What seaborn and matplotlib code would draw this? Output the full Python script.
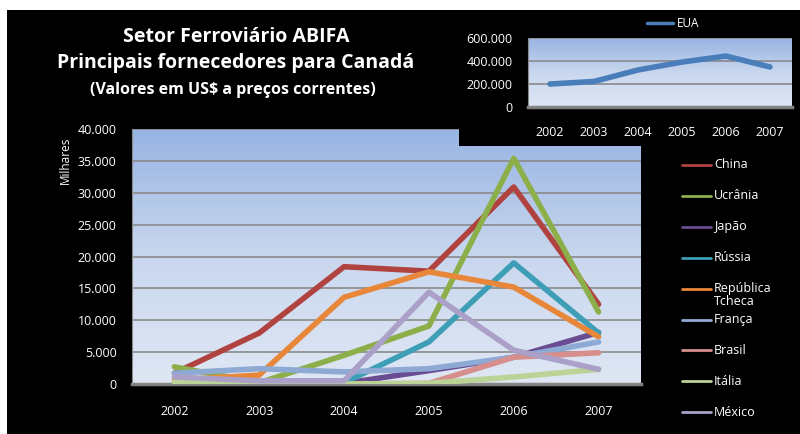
import numpy as np
import pandas as pd
import seaborn as sns
import matplotlib.pyplot as plt
from matplotlib.ticker import FuncFormatter
from matplotlib.colors import LinearSegmentedColormap
from matplotlib import patches
from matplotlib.lines import Line2D

years = ['2002', '2003', '2004', '2005', '2006', '2007']

# valores em milhares de US$
china = [1700, 8000, 18400, 17700, 30900, 12500]
ucrania = [2700, 200, 4500, 9100, 35400, 11300]
japao = [0, 0, 100, 2100, 4200, 8100]
russia = [0, 0, 200, 6600, 19000, 8000]
rep_tcheca = [600, 1400, 13600, 17600, 15200, 7400]
franca = [1700, 2400, 1900, 2400, 4200, 6600]
brasil = [0, 0, 0, 100, 4200, 4900]
italia = [300, 100, 0, 100, 1100, 2300]
mexico = [1100, 500, 500, 14400, 5300, 2300]
eua = [200000, 222000, 322000, 391000, 443000, 348000]

countries = ['China', 'Ucrânia', 'Japão', 'Rússia', 'República\nTcheca',
             'França', 'Brasil', 'Itália', 'México']
series = [china, ucrania, japao, russia, rep_tcheca, franca, brasil, italia, mexico]
colors = ['#B0423F', '#8DAF4A', '#694C92', '#3E9EB6', '#E8873A',
          '#8EAAD4', '#D78F8D', '#BBD396', '#ABA0C8']

df = pd.DataFrame({
    'ano': years * len(countries),
    'pais': [c for c in countries for _ in years],
    'valor': [v for s in series for v in s],
})
df_eua = pd.DataFrame({'ano': years, 'valor': eua, 'pais': 'EUA'})

sns.set_style('white')
plt.rcParams['font.family'] = ['Open Sans', 'DejaVu Sans']

W, H = 800, 434
fig = plt.figure(figsize=(8, 4.34), dpi=100, facecolor='white')

def fbox(x0, y0, x1, y1):
    # pixel box (top-left origin) -> figure fraction rect
    return [x0 / W, 1 - y1 / H, (x1 - x0) / W, (y1 - y0) / H]

# fundo preto
fig.patches.append(patches.Rectangle((7 / W, 0), 1 - 7 / W, 1 - 10 / H,
                                     transform=fig.transFigure, facecolor='black',
                                     edgecolor='none', zorder=0))

grad = LinearSegmentedColormap.from_list('g', ['#DFE7F4', '#C9D7EE', '#97B4E2'])
dot_fmt = FuncFormatter(lambda x, pos: f'{int(x):,}'.replace(',', '.'))

def style_axes(ax, ymax):
    ax.set_facecolor('none')
    ax.imshow(np.linspace(0, 1, 256).reshape(-1, 1), cmap=grad, origin='lower',
              extent=(-0.5, 5.5, 0, ymax), aspect='auto', zorder=0)
    ax.set_xlim(-0.5, 5.5)
    ax.set_ylim(0, ymax)
    ax.grid(axis='y', color='#8A8A8A', lw=1.2)
    ax.grid(axis='x', visible=False)
    ax.set_axisbelow(False)
    for s in ['top', 'right']:
        ax.spines[s].set_visible(False)
    ax.spines['left'].set_color('#8A8A8A')
    ax.spines['bottom'].set_color('#7F7F7F')
    ax.spines['bottom'].set_linewidth(2.5)
    ax.yaxis.set_major_formatter(dot_fmt)
    ax.set_xlabel('')
    ax.set_ylabel('')

# grafico principal
ax = fig.add_axes(fbox(132, 129, 641, 384), zorder=1)
sns.lineplot(data=df, x='ano', y='valor', hue='pais', palette=colors,
             hue_order=countries, lw=4, legend=False, ax=ax, zorder=3)
style_axes(ax, 40000)
ax.set_yticks(range(0, 40001, 5000))
for gl in ax.get_ygridlines():
    gl.set_zorder(1)
ax.tick_params(axis='both', length=0, colors='white', labelsize=9)
ax.tick_params(axis='x', pad=15)
ax.tick_params(axis='y', pad=11)
fig.text(65 / W, 1 - 160 / H, 'Milhares', rotation=90, color='white',
         fontsize=8.5, ha='center', va='center')

# legenda
for i, (name, col) in enumerate(zip(countries, colors)):
    yp = 165 + i * 30.9
    fig.lines.append(Line2D([682 / W, 711 / W], [1 - yp / H, 1 - yp / H],
                            transform=fig.transFigure, color=col, lw=2))
    fig.text(714 / W, 1 - (yp - 6.5) / H, name, color='white', fontsize=9,
             ha='left', va='top', linespacing=1.0)

# titulo
fig.text(236 / W, 1 - 37 / H, 'Setor Ferroviário ABIFA', color='white',
         fontsize=14, fontweight='bold', ha='center', va='center')
fig.text(236 / W, 1 - 63 / H, 'Principais fornecedores para Canadá', color='white',
         fontsize=14, fontweight='bold', ha='center', va='center')
fig.text(233 / W, 1 - 90 / H, '(Valores em US$ a preços correntes)', color='white',
         fontsize=11.5, fontweight='bold', ha='center', va='center')

# grafico EUA
bg = fig.add_axes(fbox(459, 10, 800, 146), zorder=2)
bg.set_facecolor('black')
bg.set_xticks([])
bg.set_yticks([])
for s in bg.spines.values():
    s.set_visible(False)

ax2 = fig.add_axes(fbox(528, 38, 792, 107), zorder=3)
sns.lineplot(data=df_eua, x='ano', y='valor', hue='pais', palette=['#4A7EBB'],
             lw=4, ax=ax2, zorder=3)
style_axes(ax2, 600000)
ax2.set_yticks([0, 200000, 400000, 600000])
for gl in ax2.get_ygridlines():
    gl.set_zorder(1)
ax2.tick_params(axis='both', length=0, colors='white', labelsize=9)
ax2.tick_params(axis='x', pad=14)
ax2.tick_params(axis='y', pad=11)
leg = ax2.legend(loc='lower center', bbox_to_anchor=(0.55, 1.05), frameon=False,
                 fontsize=8.5, handlelength=2.2, handletextpad=0.4,
                 labelcolor='white', borderaxespad=0)
for ln in leg.get_lines():
    ln.set_linewidth(2.5)

fig.savefig('out.png', dpi=100, facecolor='white')
